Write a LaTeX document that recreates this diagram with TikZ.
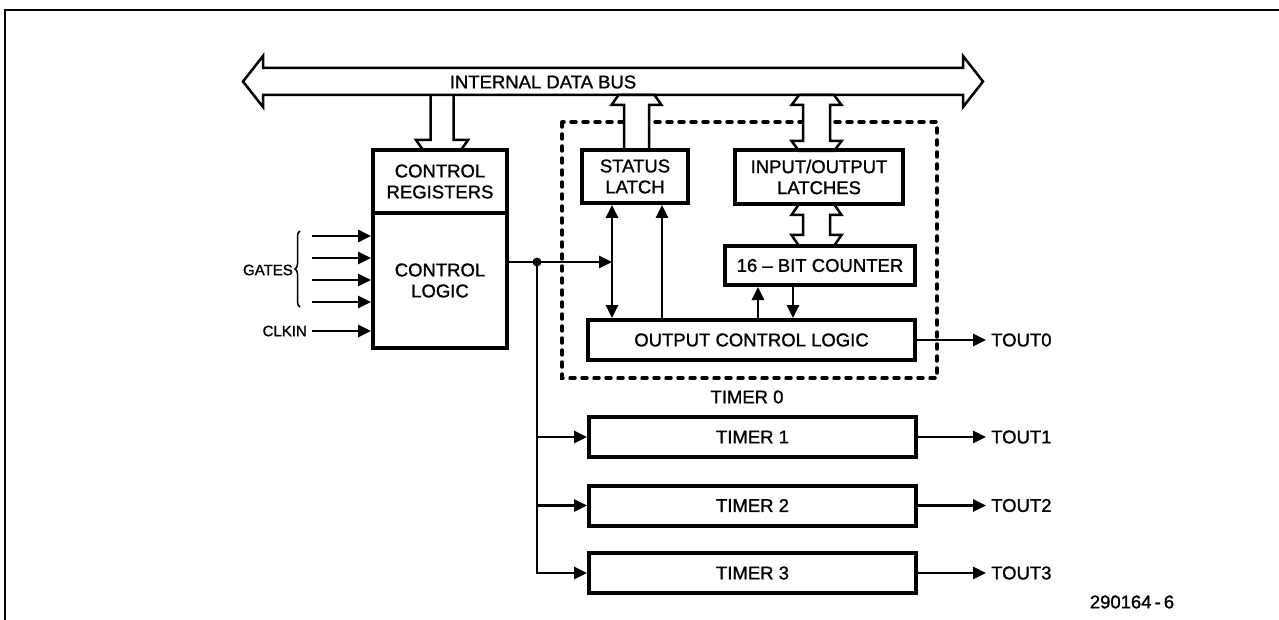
\documentclass[tikz,border=0pt]{standalone}
\usepackage{fontspec}
\setmainfont{Liberation Sans}[BoldFont={Liberation Sans}, BoldFeatures={FakeBold=1.2}]
\usetikzlibrary{arrows.meta,decorations.pathreplacing,calc}
\tikzset{
  lbl/.style={font=\fontsize{18.5}{21}\selectfont\bfseries, inner sep=0pt, align=center},
  small/.style={font=\fontsize{15}{18}\selectfont\bfseries, inner sep=0pt},
  blk/.style={lbl, draw, line width=4pt},
  conn/.style={line width=2.8pt},
  arr/.style={conn, -{Triangle[length=13pt,width=12pt]}},
  arrboth/.style={conn, {Triangle[length=13pt,width=12pt]}-{Triangle[length=13pt,width=12pt]}},
  hollow/.style={line width=2.5pt, fill=white, line join=miter},
  outlbl/.style={lbl, anchor=west, inner xsep=5pt},
  dashbox/.style={line width=3.5pt, dash pattern=on 5pt off 7pt, line cap=round}
}
\begin{document}
\begin{tikzpicture}[x=1pt,y=-1pt]
\useasboundingbox (0,0) rectangle (1279,620);
% frame
\draw[line width=1.8pt] (5,620) -- (5,10) -- (1279,10);

% timer 0 dashed outline
\draw[dashbox] (562,122) rectangle (937,378);

% hollow bus arrows
\draw[hollow] (430.5,95) -- (430.5,140) -- (416,140) -- (423,150) -- (461,150) -- (468,140) -- (453.5,140) -- (453.5,95);
\draw[hollow] (624,150) -- (624,105) -- (611.5,105) -- (618.5,95) -- (654.5,95) -- (661.5,105) -- (649,105) -- (649,150);
\draw[hollow] (803,141) -- (803,105) -- (791.5,105) -- (799,95) -- (834,95) -- (841.5,105) -- (830,105) -- (830,141) -- (841.5,141) -- (834,151) -- (799,151) -- (791.5,141) -- cycle;
\draw[hollow] (803,215) -- (791.5,215) -- (799,204) -- (834,204) -- (841.5,215) -- (830,215) -- (830,235) -- (841.5,235) -- (834,246) -- (799,246) -- (791.5,235) -- (803,235) -- cycle;

% internal data bus
\draw[line width=2.5pt, line join=miter] (243,81.5) -- (263,56) -- (263,68) -- (963,68) -- (963,56) -- (983,81.5) -- (963,107) -- (963,95) -- (263,95) -- (263,107) -- cycle;
\node[lbl] (bus) at (543,82) {INTERNAL DATA BUS};

% blocks
\node[blk, minimum width=134pt, minimum height=63pt] (creg) at (440,181.5) {CONTROL\\REGISTERS};
\node[blk, minimum width=134pt, minimum height=135pt] (clogic) at (440,280.5) {CONTROL\\LOGIC};
\node[blk, minimum width=106pt, minimum height=53pt] (status) at (635,176.5) {STATUS\\LATCH};
\node[blk, minimum width=168pt, minimum height=54pt] (iolatch) at (819,177) {INPUT/OUTPUT\\LATCHES};
\node[blk, minimum width=190pt, minimum height=39pt] (counter) at (820,265.5) {16 – BIT COUNTER};
\node[blk, minimum width=327pt, minimum height=40pt] (ocl) at (751.5,340) {OUTPUT CONTROL LOGIC};
\node[lbl] (t0lbl) at (747,397) {TIMER 0};
\node[blk, minimum width=327pt, minimum height=40pt] (timer1) at (752.5,437) {TIMER 1};
\node[blk, minimum width=327pt, minimum height=40pt] (timer2) at (752.5,505.5) {TIMER 2};
\node[blk, minimum width=327pt, minimum height=40pt] (timer3) at (752.5,573) {TIMER 3};

% inputs
\node[small, anchor=east] (gates) at (293,270) {GATES};
\draw[line width=1.5pt, decorate, decoration={brace, amplitude=5pt}] (300,307) -- (300,231);
\coordinate (g1) at (312,236);
\coordinate (g2) at (312,258);
\coordinate (g3) at (312,280);
\coordinate (g4) at (312,302);
\foreach \g in {g1,g2,g3,g4} \draw[arr] (\g) -- (\g -| clogic.west);
\node[small, anchor=east, inner xsep=5pt] (clk) at (312,331) {CLKIN};
\draw[arr] (clk.east) -- (clk.east -| clogic.west);

% control logic output
\coordinate (j) at (537,262);
\coordinate (sx) at (612,262);
\coordinate (ux) at (662,262);
\coordinate (cu) at (758,300);
\coordinate (cd) at (793,300);
\draw[conn] (j -| clogic.east) -- (j);
\draw[arr] (j) -- (sx);
\draw[arrboth] (sx |- status.south) -- (sx |- ocl.north);
\draw[arr] (ux |- ocl.north) -- (ux |- status.south);
\draw[arr] (cu |- ocl.north) -- (cu |- counter.south);
\draw[arr] (cd |- counter.south) -- (cd |- ocl.north);
\fill (j) circle (4.5pt);
\draw[arr] (j) |- (timer3.west);
\draw[arr] (j |- timer1.west) -- (timer1.west);
\draw[arr] (j |- timer2.west) -- (timer2.west);

% outputs
\node[outlbl] (tout0) at (986,340) {TOUT0};
\node[outlbl] (tout1) at (986,437) {TOUT1};
\node[outlbl] (tout2) at (986,505.5) {TOUT2};
\node[outlbl] (tout3) at (986,573) {TOUT3};
\draw[arr] (ocl.east) -- (tout0.west);
\draw[arr] (timer1.east) -- (tout1.west);
\draw[arr] (timer2.east) -- (tout2.west);
\draw[arr] (timer3.east) -- (tout3.west);

\node[lbl] (fig) at (1132,602) {290164\,-\,6};
\end{tikzpicture}
\end{document}
